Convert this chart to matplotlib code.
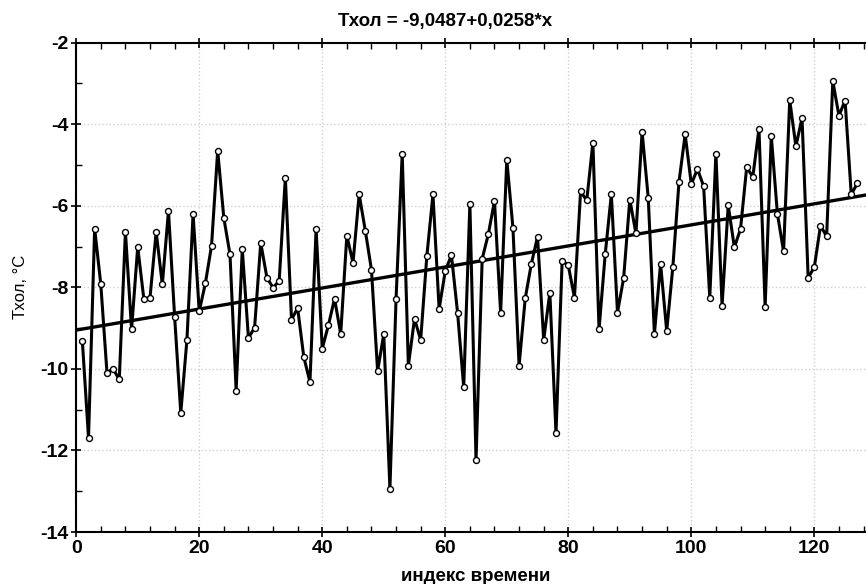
import numpy as np
import matplotlib
matplotlib.use('Agg')
import matplotlib.pyplot as plt
from matplotlib.ticker import MultipleLocator

plt.rcParams['font.family'] = ['Liberation Sans', 'DejaVu Sans']
plt.rcParams['axes.unicode_minus'] = False

# Тхол по индексу времени
t_index = np.arange(1, 128)
t_hol = [
    -9.32, -11.69, -6.56, -7.93, -10.09, -10.00, -10.26, -6.64, -9.03, -7.01,
    -8.29, -8.25, -6.64, -7.93, -6.13, -8.72, -11.08, -9.29, -6.20, -8.59,
    -7.90, -6.98, -4.65, -6.30, -7.19, -10.53, -7.07, -9.24, -8.99, -6.91,
    -7.76, -8.01, -7.84, -5.31, -8.79, -8.51, -9.71, -10.32, -6.57, -9.50,
    -8.93, -8.28, -9.14, -6.73, -7.40, -5.72, -6.61, -7.57, -10.05, -9.15,
    -12.94, -8.28, -4.72, -9.92, -8.77, -9.29, -7.24, -5.72, -8.53, -7.60,
    -7.21, -8.62, -10.45, -5.95, -12.23, -7.30, -6.70, -5.88, -8.62, -4.87,
    -6.54, -9.92, -8.27, -7.42, -6.76, -9.29, -8.13, -11.58, -7.35, -7.46,
    -8.25, -5.65, -5.87, -4.45, -9.03, -7.19, -5.72, -8.62, -7.77, -5.85,
    -6.68, -4.19, -5.81, -9.14, -7.42, -9.07, -7.50, -5.41, -4.25, -5.47,
    -5.10, -5.52, -8.25, -4.72, -8.45, -5.99, -7.02, -6.57, -5.06, -5.29,
    -4.11, -8.48, -4.29, -6.20, -7.12, -3.41, -4.54, -3.85, -7.77, -7.50,
    -6.49, -6.75, -2.94, -3.79, -3.42, -5.72, -5.45,
]

# линейный тренд из заголовка
b0 = -9.0487
b1 = 0.0258

x_min, x_max = 0, 128.4
y_min, y_max = -14, -2

fig = plt.figure(figsize=(8.66, 5.84), dpi=100)
ax = fig.add_axes([0.088, 0.089, 0.912, 0.838])

ax.grid(True, which='major', color='#d0d0d0', linestyle=':', linewidth=1.0)
ax.set_axisbelow(True)

xs = np.array([x_min, x_max])
ax.plot(xs, b0 + b1 * xs, color='black', linewidth=2.4, zorder=3)

ax.plot(t_index, t_hol, color='black', linewidth=2.2, marker='o',
        markersize=4.3, markerfacecolor='white', markeredgecolor='black',
        markeredgewidth=1.0, zorder=4)

ax.set_xlim(x_min, x_max)
ax.set_ylim(y_min, y_max)
ax.xaxis.set_major_locator(MultipleLocator(20))
ax.xaxis.set_minor_locator(MultipleLocator(4))
ax.yaxis.set_major_locator(MultipleLocator(2))
ax.yaxis.set_minor_locator(MultipleLocator(1))

ax.tick_params(which='major', direction='inout', length=7, width=1.2,
               top=True, labelsize=14, pad=2)
ax.tick_params(which='minor', direction='in', length=4, width=1.0, top=True)
for lab in ax.get_xticklabels() + ax.get_yticklabels():
    lab.set_fontweight('bold')

for side in ['left', 'bottom', 'top']:
    ax.spines[side].set_linewidth(1.5)
ax.spines['right'].set_visible(False)

ax.set_title('Тхол = -9,0487+0,0258*x', fontsize=13.5, fontweight='bold',
             x=0.467, y=1.044, va='center', pad=0)
ax.set_xlabel('индекс времени', fontsize=13.5, fontweight='bold', va='center')
ax.xaxis.set_label_coords(0.5056, -0.09)
ax.set_ylabel('Тхол, °C', fontsize=12, va='center')
ax.yaxis.set_label_coords(-0.071, 0.5)

fig.savefig('out.png', dpi=100)
